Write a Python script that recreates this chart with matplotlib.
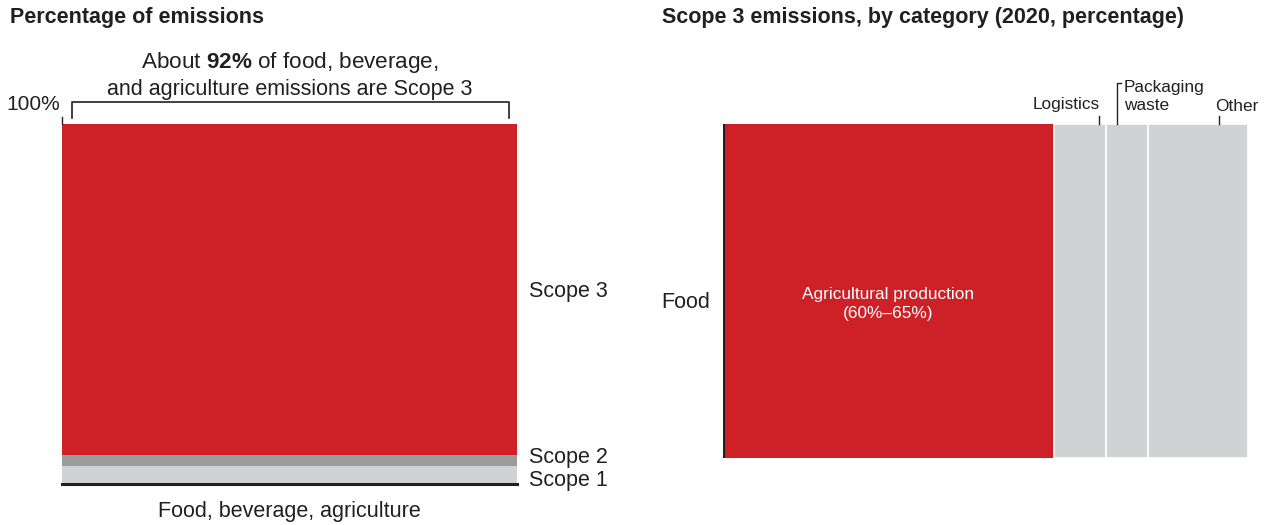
import matplotlib.pyplot as plt

plt.rcParams['font.family'] = ['Liberation Sans', 'DejaVu Sans']
plt.rcParams['mathtext.fontset'] = 'custom'
plt.rcParams['mathtext.rm'] = 'Liberation Sans'
plt.rcParams['mathtext.bf'] = 'Liberation Sans:bold'

# scope split of food/beverage/agriculture emissions (%)
scopes = ['Scope 1', 'Scope 2', 'Scope 3']
scope_vals = [5, 3, 92]
scope_cols = ['#D1D2D4', '#9B9B9B', '#CD2027']

# scope 3 breakdown by category (%)
cats = ['Agricultural production', 'Logistics', 'Packaging waste', 'Other']
cat_vals = [63, 10, 8, 19]
cat_cols = ['#CD2027', '#D1D2D4', '#D1D2D4', '#D1D2D4']

RED = '#CD2027'
TXT = '#231F20'
FS = 15.5

fig = plt.figure(figsize=(12.67, 5.25), dpi=100)

# ---- left chart
ax1 = fig.add_axes([62/1267, 1-484/525, 455/1267, 360/525])
bottom = 0
for name, v, c in zip(scopes, scope_vals, scope_cols):
    ax1.bar(0, v, width=1, bottom=bottom, color=c, linewidth=0)
    bottom += v
ax1.set_xlim(-0.5, 0.5)
ax1.set_ylim(0, 100)
ax1.axis('off')
ax1.axhline(0, color=TXT, lw=2.2, clip_on=False)

ytr = ax1.get_yaxis_transform()
ax1.text(1.026, scope_vals[0] + scope_vals[1] + scope_vals[2]/2 - 0.5, 'Scope 3',
         transform=ytr, va='center', ha='left', fontsize=FS, color=TXT)
ax1.text(1.026, scope_vals[0] + scope_vals[1] - 0.7, 'Scope 2',
         transform=ytr, va='center', ha='left', fontsize=FS, color=TXT)
ax1.text(1.026, 0.9, 'Scope 1',
         transform=ytr, va='center', ha='left', fontsize=FS, color=TXT)
ax1.text(0.5, -0.075, 'Food, beverage, agriculture', transform=ax1.transAxes,
         ha='center', va='center', fontsize=FS, color=TXT)

# 100% marker and bracket
ax1.plot([0, 0], [1.0, 1.02], transform=ax1.transAxes, color=TXT, lw=1, clip_on=False)
ax1.text(-0.005, 1.053, '100%', transform=ax1.transAxes, ha='right', va='center',
         fontsize=15, color=TXT)
ax1.plot([0.022, 0.022, 0.982, 0.982], [1.017, 1.061, 1.061, 1.017],
         transform=ax1.transAxes, color=TXT, lw=1.2, clip_on=False)
ax1.text(0.5, 1.17, 'About $\\mathbf{92\\%}$ of food, beverage,', transform=ax1.transAxes,
         ha='center', va='center', fontsize=16.2, color=TXT)
ax1.text(0.5, 1.097, 'and agriculture emissions are Scope 3', transform=ax1.transAxes,
         ha='center', va='center', fontsize=FS, color=TXT)

fig.text(10/1267, 1-18/525, 'Percentage of emissions', fontsize=FS, fontweight='bold',
         ha='left', va='center', color=TXT)

# ---- right chart
ax2 = fig.add_axes([723/1267, 1-458/525, 525/1267, 334/525])
left = 0
for name, v, c in zip(cats, cat_vals, cat_cols):
    if c == RED:
        ax2.barh(0, v, height=1, left=left, color=c, linewidth=0)
    else:
        ax2.barh(0, v, height=1, left=left, color=c, edgecolor='white', linewidth=1.2)
    left += v
ax2.set_xlim(0, 100)
ax2.set_ylim(-0.5, 0.5)
ax2.axis('off')
ax2.axvline(0, color=TXT, lw=2.3)

ax2.text(cat_vals[0]/2, -0.04, 'Agricultural production\n(60%–65%)', ha='center', va='center',
         fontsize=12.4, color='white', linespacing=1.35)
ax2.text(-0.025, 0.467, 'Food', transform=ax2.transAxes, ha='right', va='center',
         fontsize=FS, color=TXT)

# category leaders
trans = ax2.get_xaxis_transform()
ax2.plot([71.6, 71.6], [1.0, 1.024], transform=trans, color=TXT, lw=1, clip_on=False)
ax2.text(71.8, 1.057, 'Logistics', transform=trans, ha='right', va='center',
         fontsize=12.4, color=TXT)
ax2.plot([75.0, 75.0, 75.9], [1.0, 1.123, 1.123], transform=trans, color=TXT, lw=1, clip_on=False)
ax2.text(76.4, 1.083, 'Packaging\nwaste', transform=trans, ha='left', va='center',
         fontsize=12.4, color=TXT, linespacing=1.22)
ax2.plot([94.5, 94.5], [1.0, 1.024], transform=trans, color=TXT, lw=1, clip_on=False)
ax2.text(93.7, 1.052, 'Other', transform=trans, ha='left', va='center',
         fontsize=12.4, color=TXT)

fig.text(662/1267, 1-18/525, 'Scope 3 emissions, by category (2020, percentage)', fontsize=FS,
         fontweight='bold', ha='left', va='center', color=TXT)

fig.savefig('out.png', dpi=100)
